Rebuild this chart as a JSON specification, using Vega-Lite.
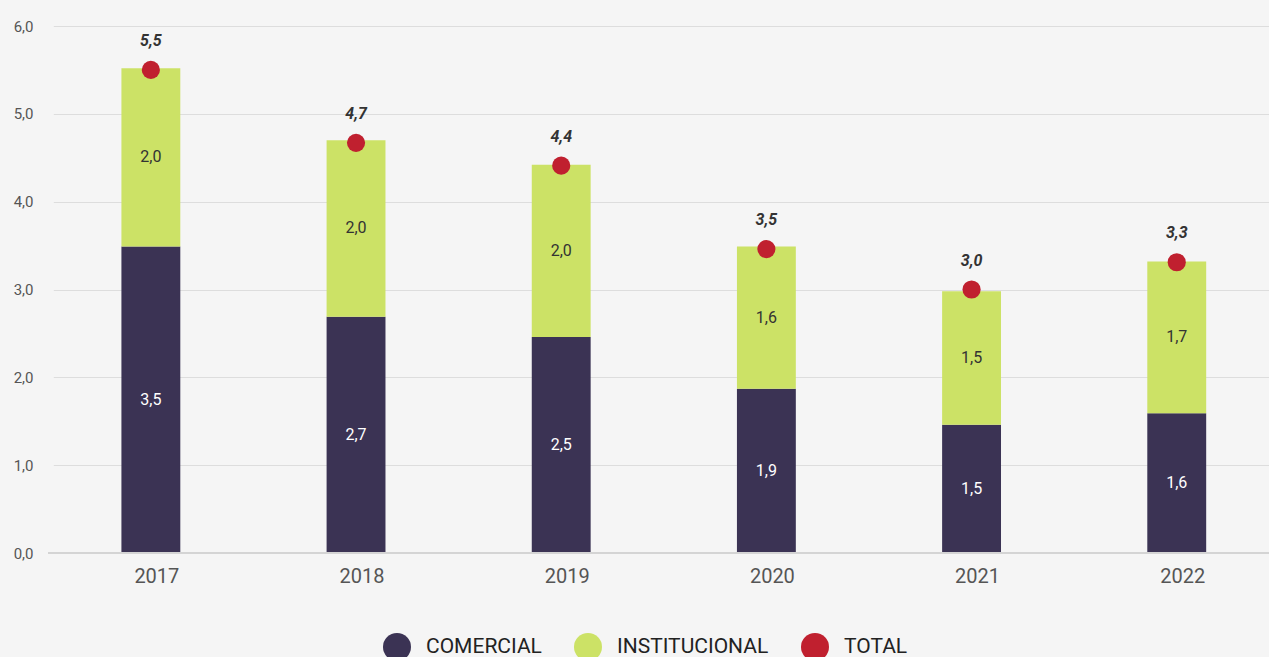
{
  "$schema": "https://vega.github.io/schema/vega-lite/v6.json",
  "width": 1221,
  "height": 527,
  "autosize": {"type": "none"},
  "padding": {"left": 48, "top": 26, "right": 0, "bottom": 104},
  "background": "#f5f5f5",
  "config": {
    "font": "Roboto",
    "view": {"stroke": null},
    "axis": {"labelFont": "Roboto", "titleFont": "Roboto"}
  },
  "data": {
    "values": [
      {"anio": "2017", "tipo": "COMERCIAL", "valor": 3.49},
      {"anio": "2017", "tipo": "INSTITUCIONAL", "valor": 2.03},
      {"anio": "2017", "tipo": "TOTAL", "valor": 5.50},
      {"anio": "2018", "tipo": "COMERCIAL", "valor": 2.69},
      {"anio": "2018", "tipo": "INSTITUCIONAL", "valor": 2.01},
      {"anio": "2018", "tipo": "TOTAL", "valor": 4.67},
      {"anio": "2019", "tipo": "COMERCIAL", "valor": 2.46},
      {"anio": "2019", "tipo": "INSTITUCIONAL", "valor": 1.96},
      {"anio": "2019", "tipo": "TOTAL", "valor": 4.41},
      {"anio": "2020", "tipo": "COMERCIAL", "valor": 1.87},
      {"anio": "2020", "tipo": "INSTITUCIONAL", "valor": 1.62},
      {"anio": "2020", "tipo": "TOTAL", "valor": 3.46},
      {"anio": "2021", "tipo": "COMERCIAL", "valor": 1.46},
      {"anio": "2021", "tipo": "INSTITUCIONAL", "valor": 1.52},
      {"anio": "2021", "tipo": "TOTAL", "valor": 3.00},
      {"anio": "2022", "tipo": "COMERCIAL", "valor": 1.59},
      {"anio": "2022", "tipo": "INSTITUCIONAL", "valor": 1.73},
      {"anio": "2022", "tipo": "TOTAL", "valor": 3.31}
    ]
  },
  "transform": [
    {"calculate": "replace(format(datum.valor, '.1f'), '.', ',')", "as": "etiqueta"}
  ],
  "encoding": {
    "x": {
      "field": "anio",
      "type": "nominal",
      "scale": {"range": [5.3, 1226.3], "paddingInner": 0.713, "paddingOuter": 0.332},
      "axis": {
        "title": null,
        "labelAngle": 0,
        "labelFontSize": 20,
        "labelColor": "#555555",
        "labelPadding": 13,
        "labelOffset": 6,
        "ticks": false,
        "domain": false
      }
    }
  },
  "layer": [
    {
      "transform": [{"filter": "datum.tipo !== 'TOTAL'"}],
      "mark": {"type": "bar"},
      "encoding": {
        "y": {
          "field": "valor",
          "type": "quantitative",
          "stack": "zero",
          "scale": {"domain": [0, 6], "nice": false},
          "axis": {
            "title": null,
            "values": [0, 1, 2, 3, 4, 5, 6],
            "labelExpr": "replace(format(datum.value, '.1f'), '.', ',')",
            "labelFontSize": 15,
            "labelColor": "#555555",
            "labelPadding": 15,
            "ticks": false,
            "domain": false,
            "gridColor": "#dddddd",
            "gridWidth": 1
          }
        },
        "color": {
          "field": "tipo",
          "type": "nominal",
          "scale": {
            "domain": ["COMERCIAL", "INSTITUCIONAL", "TOTAL"],
            "range": ["#3b3354", "#cce266", "#c0202f"]
          },
          "legend": {
            "title": null,
            "orient": "none",
            "legendX": 335,
            "legendY": 607,
            "padding": 0,
            "direction": "horizontal",
            "symbolType": "circle",
            "symbolSize": 784,
            "symbolStrokeWidth": 0,
            "labelFontSize": 21,
            "labelColor": "#222222",
            "labelFont": "Roboto",
            "columnPadding": 32,
            "labelOffset": 15
          }
        },
        "order": {"field": "tipo", "sort": "ascending"}
      }
    },
    {
      "data": {"values": [{"z": 0}]},
      "mark": {"type": "rule", "color": "#d4d4d4", "strokeWidth": 2},
      "encoding": {"x": null, "y": {"datum": 0, "type": "quantitative"}}
    },
    {
      "transform": [
        {"filter": "datum.tipo !== 'TOTAL'"},
        {"stack": "valor", "groupby": ["anio"], "sort": [{"field": "tipo", "order": "ascending"}], "as": ["v0", "v1"]},
        {"calculate": "(datum.v0 + datum.v1) / 2", "as": "mid"}
      ],
      "mark": {"type": "text", "fontSize": 16, "font": "Roboto"},
      "encoding": {
        "y": {"field": "mid", "type": "quantitative"},
        "text": {"field": "etiqueta", "type": "nominal"},
        "color": {
          "condition": {"test": "datum.tipo === 'COMERCIAL'", "value": "#ffffff"},
          "value": "#333333"
        }
      }
    },
    {
      "transform": [{"filter": "datum.tipo === 'TOTAL'"}],
      "mark": {"type": "point", "filled": true, "size": 330, "opacity": 1, "strokeWidth": 0},
      "encoding": {
        "y": {"field": "valor", "type": "quantitative"},
        "color": {"field": "tipo", "type": "nominal"},
        "shape": {"value": "circle"}
      }
    },
    {
      "transform": [{"filter": "datum.tipo === 'TOTAL'"}],
      "mark": {"type": "text", "fontSize": 16, "fontWeight": "bold", "fontStyle": "italic", "dy": -29, "color": "#333333", "font": "Roboto"},
      "encoding": {
        "y": {"field": "valor", "type": "quantitative"},
        "text": {"field": "etiqueta", "type": "nominal"}
      }
    }
  ],
  "resolve": {"scale": {"color": "shared"}}
}
